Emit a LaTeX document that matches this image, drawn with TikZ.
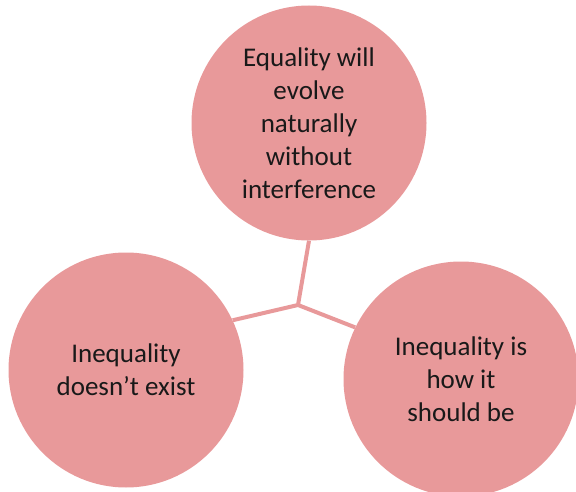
\documentclass[tikz,border=0pt]{standalone}
\usepackage{fontspec}
\setmainfont{Carlito}
\definecolor{petal}{RGB}{232,153,154}

\begin{document}
\begin{tikzpicture}[x=1pt,y=-1pt,
  view/.style={circle,fill=petal,minimum size=235pt,inner sep=0pt,align=center,
    font=\fontsize{27}{33}\selectfont,text=black!90},
  link/.style={petal,line width=4pt}]
\useasboundingbox (0,0) rectangle (576,492);
\node[view] (evolve) at (309,123) {Equality will\\evolve\\naturally\\without\\interference};
\node[view] (denial) at (126,370) {Inequality\\doesn’t exist};
\node[view] (should) at (461,379) {Inequality is\\how it\\should be};
\coordinate (hub) at (298,305);
\draw[link] (evolve.south)--(hub) (denial.25)--(hub)--(should.154);
\end{tikzpicture}
\end{document}
